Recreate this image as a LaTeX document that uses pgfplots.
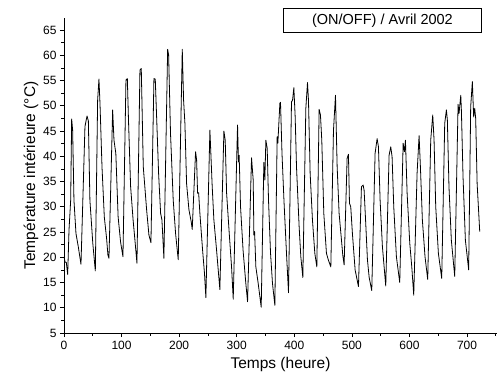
\documentclass[border=0pt]{standalone}
\usepackage{pgfplots}
\pgfplotsset{compat=1.18}
\usepackage{fontspec}
\setmainfont{Liberation Sans}
\begin{document}
\begin{tikzpicture}
\path[use as bounding box] (-64pt,-53pt) rectangle (440pt,333pt);
\begin{axis}[
  scale only axis,
  width=433pt, height=315pt,
  xmin=0, xmax=752, ymin=5, ymax=67.4,
  axis lines=left,
  axis line style={-, line width=0.8pt},
  xtick={0,100,...,700},
  minor xtick={50,150,...,750},
  ytick={5,10,...,65},
  minor ytick={7.5,12.5,...,65},
  tick align=outside,
  major tick length=4pt,
  minor tick length=2.5pt,
  tick style={black, line width=0.7pt},
  tick label style={font=\fontsize{12}{14}\selectfont},
  xticklabel style={yshift=-1pt},
  /pgf/number format/assume math mode=true,
  xlabel={Temps (heure)},
  ylabel={Température intérieure (°C)},
  label style={font=\fontsize{15.5}{18}\selectfont},
  xlabel style={yshift=0pt},
  ylabel style={yshift=-2pt},
  clip=false,
]
\addplot[black, line width=0.8pt, line join=round] coordinates {
(0,20.1) (2,19.0) (4,19.0) (6.4,16.6) (8.7,25.4) (11.6,31.3) (13.3,47.4) (15,45.2) (17.3,31.3) (20.8,24.7) (24.8,22.1) (29.5,18.6)
(36.4,45.9) (40,48) (42.3,47) (45,31.3) (50,22.8) (54.4,17.3)
(58.4,51.1) (60.7,55.3) (62.5,50.5) (66,37.9) (70,28) (74,23.7) (76.3,20.4) (78.1,19.8)
(84.5,49.2) (86.8,43.2) (90,40.6) (94,28) (98.3,23) (102.4,20.1)
(107.6,55.1) (110,55.4) (112,47.2) (115.7,34) (120,27.4) (123.5,23) (126.7,18.8)
(131.9,57.1) (134.2,57.4) (137.7,37.9) (143.5,29.4) (147.5,24.4) (151,22.9)
(156.2,55.4) (158.5,55.3) (160.8,48) (164.3,36.6) (167.8,28.7) (170.1,27.4) (173.5,19.8)
(180,61.2) (181.7,60.1) (185,44.5) (189.7,31.3) (193.8,24.7) (198.4,19.5)
(205.4,61.2) (207.7,51.1) (210,46.5) (212.9,34.6) (217,29.4) (221,27) (222.7,25.5)
(228.5,40.9) (230.3,39.3) (232,32.7) (233.8,32.8) (236,28.7) (240.7,21.4) (244,16.8) (246.4,12)
(253.4,45.2) (257.4,34) (260.3,27.4) (265,21.4) (270.7,13.6)
(277.7,45) (280,43.2) (282.4,32.7) (287,24.7) (291,18.1) (293.9,11.7)
(301.4,46.2) (303,38.9) (304.2,40.2) (306.6,30) (311,21.4) (315.8,14.8) (318.8,11.2)
(325.7,39.7) (328.6,35.3) (329.8,24.4) (331,25.1) (333.2,18.1) (337.3,14.8) (342.5,10.1)
(347.1,38.8) (348.8,35.3) (350.6,43.2) (352.9,41.6) (355.2,31.3) (358.7,20.8) (362.1,14.8) (366.2,10.5)
(370.2,43.9) (371.4,42.6) (374.9,50.5) (376,50.7) (378.6,40.6) (382,31.3) (386.4,20.8) (389.9,13)
(395.1,50.8) (396.9,51.1) (399.2,53.6) (401.5,47.8) (403.8,37.9) (408.4,26) (411.3,20.1) (414.8,16)
(420,49.5) (422.9,54.6) (424.6,51.1) (427.5,36.6) (431.5,27.4) (435.6,20.8) (439.1,18.1)
(443.1,49.3) (445.4,48.2) (447.7,43.2) (451.2,28.7) (455.8,20.8) (459,19.5) (463.4,18.1)
(468,45.1) (471.5,52.1) (474.4,37.9) (477.8,28.7) (481.9,23.4) (484.2,20.4) (486.5,18.5)
(491.7,39.6) (494,40.4) (495.8,30.7) (498,30) (500.9,24.7) (505.6,17.5) (511.4,14.2)
(516.6,34) (519.5,34.3) (521.2,33.3) (523.5,28) (527,19.5) (530,16) (534.5,13.4)
(540.3,40.6) (543.8,43.5) (546.1,41.9) (549,31.3) (553,22.1) (558.8,14.3)
(564.6,40.2) (567.5,41.9) (569.8,39.9) (572.7,30) (577.3,20.1) (583.1,15)
(589,42.6) (591.3,40.9) (593,43.2) (595.9,32.7) (600.5,22.8) (604,18.1) (607.4,12.5)
(613.2,36.6) (616.7,44.1) (619,37.9) (622.4,27.4) (627,20.1) (631.7,15.6)
(636.9,43.2) (640.4,48.2) (642.7,43.2) (645.6,30) (650.2,20.8) (656,15.8)
(661.2,46.5) (664.1,49.2) (665.8,47.2) (668.6,34) (672.7,23.4) (678.6,16.2)
(684.4,50.3) (686.1,48.5) (689.1,52.1) (690.2,49) (693,36) (697.1,23.4) (702.8,17.5)
(706.3,49.8) (709.2,54.8) (711.5,47.8) (713.3,49.5) (715,47.5) (717.5,34.6) (722,25.1)
};
\node[draw=black, line width=0.8pt, anchor=north east, minimum width=198pt, minimum height=24pt, inner sep=0pt, font=\fontsize{14.5}{17}\selectfont]
  at ([yshift=10pt]rel axis cs:0.965,1) {(ON/OFF) / Avril 2002};
\end{axis}
\end{tikzpicture}
\end{document}
